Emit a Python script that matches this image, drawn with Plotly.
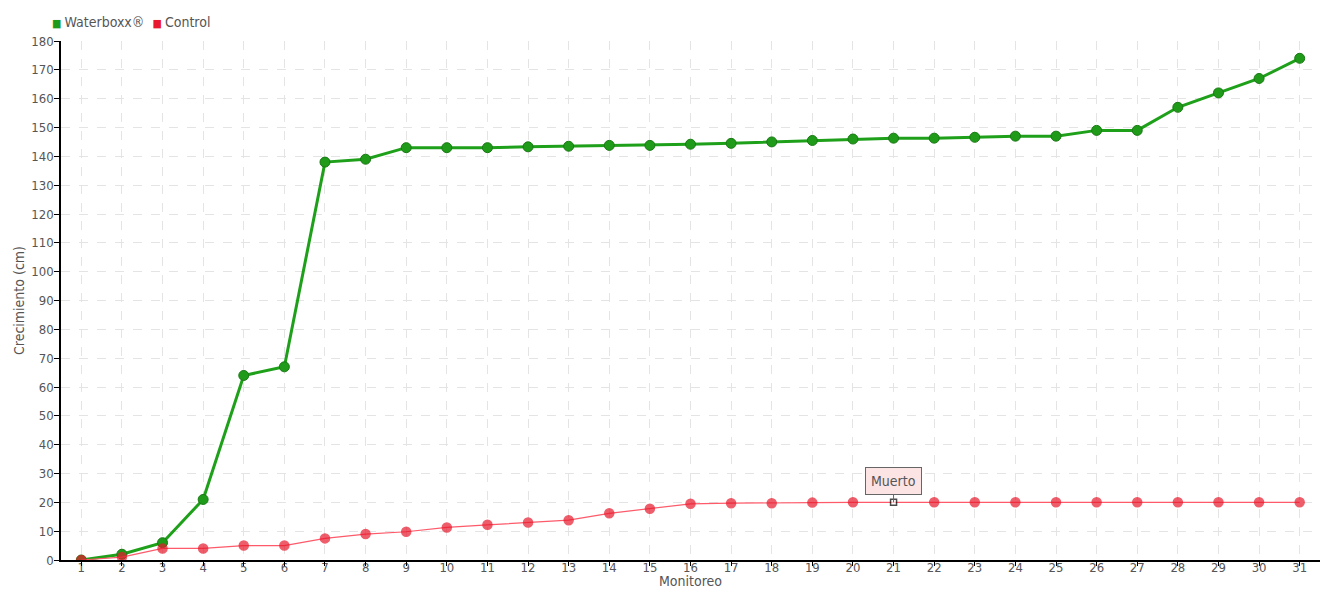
import plotly.graph_objects as go

monitoreo = list(range(1, 32))
waterboxx = [0, 2, 6, 21, 64, 67, 138, 139, 143, 143, 143, 143.3, 143.5, 143.8, 143.8, 144.2, 144.5, 145, 145.5, 146, 146.3,
             146.3, 146.6, 147, 147, 149, 149, 157, 162, 167, 174]
control = [0, 1, 4, 4, 5, 5, 7.5, 9, 9.8, 11.3, 12.2, 13, 13.8, 16.2, 17.8, 19.5, 19.7, 19.7, 19.9, 20, 20,
           20, 20, 20, 20, 20, 20, 20, 20, 20, 20]
series_names = ["Waterboxx®", "Control"]
dead_index = 20  # monitoreo 21
font_family = "DejaVu Sans Condensed, Liberation Sans Narrow, sans-serif"
text_color = "#555555"
green = "#1f9a19"
red = "#e8192c"

red_symbols = ["square" if i == dead_index else "circle" for i in range(len(control))]
red_colors = ["white" if i == dead_index else red for i in range(len(control))]
red_sizes = [6 if i == dead_index else 9 for i in range(len(control))]
red_line_colors = ["black" if i == dead_index else red for i in range(len(control))]

fig = go.Figure()
fig.add_trace(go.Scatter(
    x=monitoreo, y=waterboxx, name=series_names[0], mode="lines+markers", showlegend=False,
    line=dict(color="#1fa01a", width=3),
    marker=dict(size=10, color=green, line=dict(color="#197a14", width=1)),
))
fig.add_trace(go.Scatter(
    x=monitoreo, y=control, name=series_names[1], mode="lines+markers", showlegend=False,
    line=dict(color="#ff5a6a", width=1.2),
    marker=dict(size=red_sizes, color=red_colors, symbol=red_symbols,
                line=dict(color=red_line_colors, width=1.5)),
))
# invisible trace on a second x axis that only carries the tick marks
fig.add_trace(go.Scatter(x=[None], y=[None], xaxis="x2", showlegend=False, hoverinfo="skip"))

# legend drawn as text with coloured square swatches
legend_text = (f'<span style="color:{green};font-size:11px">■ </span>{series_names[0]}  '
               f'<span style="color:{red};font-size:11px">■ </span>{series_names[1]}')
fig.add_annotation(xref="paper", yref="paper", x=-0.009, y=1.018, xanchor="left", yanchor="bottom",
                   text=legend_text, showarrow=False,
                   font=dict(family=font_family, size=14, color=text_color))

fig.add_annotation(
    x=monitoreo[dead_index], y=control[dead_index], text="Muerto",
    showarrow=True, arrowhead=0, arrowwidth=1, arrowcolor="#666666",
    ax=0, ay=-21, bgcolor="#fce4e4", bordercolor="#666666", borderwidth=1, borderpad=5,
    font=dict(family=font_family, size=14, color=text_color),
)

# x axis title as annotation for precise placement
fig.add_annotation(xref="paper", yref="paper", x=0.5, y=-0.040, xanchor="center", yanchor="middle",
                   text="Monitoreo", showarrow=False,
                   font=dict(family=font_family, size=14, color=text_color))

fig.update_layout(
    width=1332, height=592,
    margin=dict(l=53, r=20, t=33, b=40, autoexpand=False),
    plot_bgcolor="white", paper_bgcolor="white",
    font=dict(family=font_family, size=14, color=text_color),
    showlegend=False,
    xaxis2=dict(overlaying="x", side="bottom", range=[0.5, 31.5], tickmode="array", tickvals=monitoreo,
                showticklabels=False, ticks="outside", ticklen=5, tickcolor="black",
                showgrid=False, zeroline=False, showline=False),
)
fig.layout.xaxis.update(
    range=[0.5, 31.5], tickmode="array", tickvals=monitoreo, ticktext=[str(m) for m in monitoreo],
    showline=True, linecolor="black", linewidth=1.5, ticks="", ticklen=0, ticklabelstandoff=-5,
    tickfont=dict(size=13),
    showgrid=True, gridcolor="#e4e4e4", griddash="dash", zeroline=False,
)
fig.update_yaxes(
    range=[0, 180], dtick=10, showline=True, linecolor="black", linewidth=1.5,
    ticks="outside", ticklen=5, tickcolor="black", ticklabelstandoff=-2, tickfont=dict(size=13),
    showgrid=True, gridcolor="#e4e4e4", griddash="dash", zeroline=False,
    title=dict(text="Crecimiento (cm)", standoff=3, font=dict(size=14, color=text_color)),
)

fig.write_html("out.html")
